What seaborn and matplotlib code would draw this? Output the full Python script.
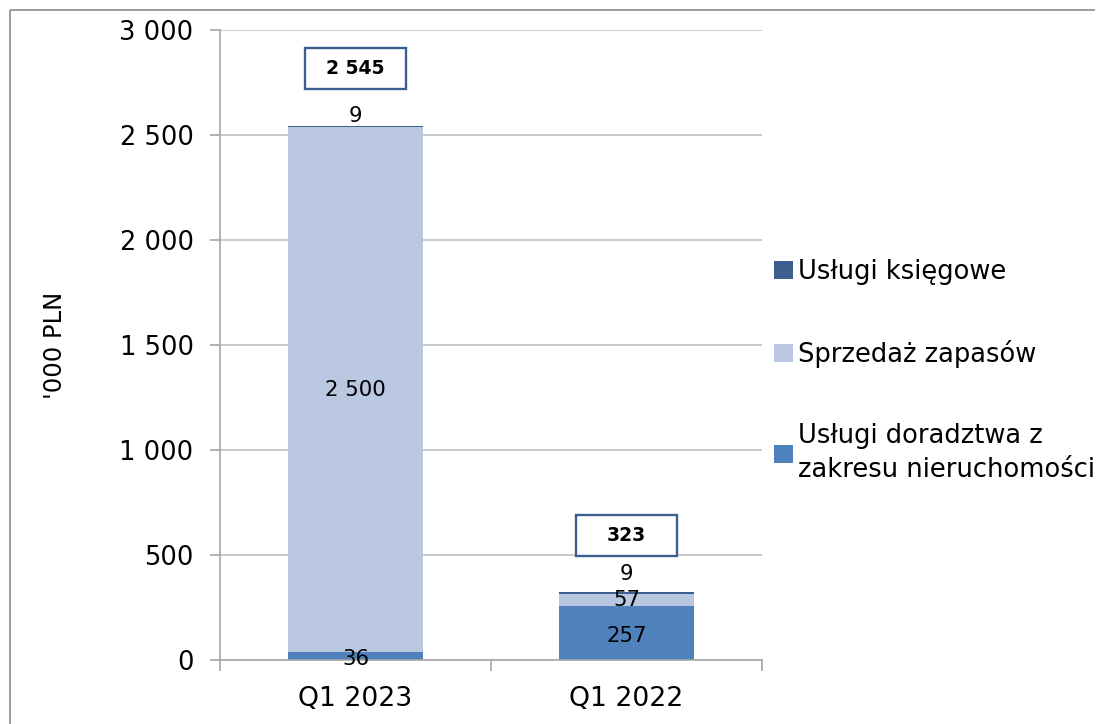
import matplotlib
matplotlib.use("Agg")
import matplotlib.pyplot as plt
import seaborn as sns
import pandas as pd
import numpy as np
from matplotlib.patches import Rectangle
from matplotlib.lines import Line2D
from matplotlib.ticker import FuncFormatter, FixedLocator

# ---- data ----
categories = ["Q1 2023", "Q1 2022"]
doradztwo = [36, 257]        # Usługi doradztwa z zakresu nieruchomości
zapasy = [2500, 57]          # Sprzedaż zapasów
ksiegowe = [9, 9]            # Usługi księgowe
totals = [2545, 323]
series_names = ["Usługi doradztwa z\nzakresu nieruchomości", "Sprzedaż zapasów", "Usługi księgowe"]
y_label = "'000 PLN"
y_ticks = [0, 500, 1000, 1500, 2000, 2500, 3000]

# ---- style ----
col_dor = "#4F81BD"
col_zap = "#B9C7E0"
col_ksi = "#3C5F8E"
grid_col = "#C6C6C6"
spine_col = "#A6A6A6"

sns.set_theme(style="white")
plt.rcParams["font.family"] = ["DejaVu Sans"]

fig = plt.figure(figsize=(11.01, 7.24), dpi=100, facecolor="white", edgecolor="white", linewidth=0)
W, H = 1101, 724
ax = fig.add_axes([220 / W, 1 - 660 / H, (762 - 220) / W, (660 - 30) / H])

df = pd.DataFrame({
    "cat": categories,
    "dor": doradztwo,
    "zap": zapasy,
    "ksi": ksiegowe,
})
df["c1"] = df["dor"]
df["c2"] = df["dor"] + df["zap"]
df["c3"] = df["c2"] + df["ksi"]

# overlapping cumulative bars -> stacked appearance
sns.barplot(data=df, x="cat", y="c3", color=col_ksi, saturation=1, width=0.5, ax=ax, linewidth=0)
sns.barplot(data=df, x="cat", y="c2", color=col_zap, saturation=1, width=0.5, ax=ax, linewidth=0)
sns.barplot(data=df, x="cat", y="c1", color=col_dor, saturation=1, width=0.5, ax=ax, linewidth=0)

ax.set_xlim(-0.5, 1.5)
ax.set_ylim(0, 3000)
ax.yaxis.set_major_locator(FixedLocator(y_ticks))
ax.yaxis.set_major_formatter(FuncFormatter(lambda v, p: f"{v:,.0f}".replace(",", " ")))
ax.grid(axis="y", color=grid_col, linewidth=1.3)
ax.set_axisbelow(True)

for s in ["top", "right"]:
    ax.spines[s].set_visible(False)
for s in ["left", "bottom"]:
    ax.spines[s].set_color(spine_col)
    ax.spines[s].set_linewidth(1.2)

ax.set_xlabel("")
ax.set_ylabel(y_label, fontsize=17.5, color="black")
ax.yaxis.set_label_coords((67 - 220) / 542, 0.5)

ax.tick_params(axis="y", which="major", length=7, width=1.2, color=spine_col,
               labelsize=18.5, labelcolor="black", pad=12, left=True, direction="out")
ax.tick_params(axis="x", which="major", length=0, labelsize=19.2, labelcolor="black", pad=19)
ax.set_xticks([-0.5, 0.5, 1.5], minor=True)
ax.tick_params(axis="x", which="minor", length=8, width=1.2, color=spine_col, bottom=True, direction="out")

# ---- data labels ----
fs_lab = 15.3
top_offsets_px = [10, 18]
for i in range(len(categories)):
    ax.annotate(f"{doradztwo[i]}", xy=(i, doradztwo[i] / 2), xytext=(0, -2),
                textcoords="offset points", ha="center", va="center", fontsize=fs_lab, color="black")
    ax.text(i, doradztwo[i] + zapasy[i] / 2, f"{zapasy[i]:,}".replace(",", " "), ha="center",
            va="center", fontsize=fs_lab, color="black")
    ax.annotate(f"{ksiegowe[i]}", xy=(i, totals[i]), xytext=(0, top_offsets_px[i] * 0.72),
                textcoords="offset points", ha="center", va="center", fontsize=fs_lab, color="black")

# ---- total boxes ----
box_w_px, box_h_px, box_off_px = 101, 41, 57
inv = ax.transData.inverted()
for i in range(len(categories)):
    px, py = ax.transData.transform((i, totals[i]))
    cy = py + box_off_px
    x0, y0 = inv.transform((px - box_w_px / 2, cy - box_h_px / 2))
    x1, y1 = inv.transform((px + box_w_px / 2, cy + box_h_px / 2))
    rect = Rectangle((x0, y0), x1 - x0, y1 - y0, facecolor="white", edgecolor=col_ksi,
                     linewidth=1.7, clip_on=False, zorder=5)
    ax.add_patch(rect)
    ax.text(i, (y0 + y1) / 2, f"{totals[i]:,}".replace(",", " "), ha="center", va="center",
            fontsize=13.5, fontweight="bold", color="black", zorder=6)

# ---- legend ----
handles = [Rectangle((0, 0), 1, 1, facecolor=c, edgecolor="none") for c in [col_ksi, col_zap, col_dor]]
labels = [series_names[2], series_names[1], series_names[0]]
leg = fig.legend(handles, labels, loc="upper left", bbox_to_anchor=(774 / W, 1 - 259 / H),
                 frameon=False, fontsize=18.5, handlelength=0.72, handleheight=0.72,
                 handletextpad=0.2, labelspacing=2.15, borderaxespad=0, borderpad=0)
for t in leg.get_texts():
    t.set_linespacing(1.37)
    t.set_color("black")

# ---- outer frame (left & top) ----
fig.add_artist(Line2D([10 / W, 10 / W], [0, 1 - 10 / H], transform=fig.transFigure,
                      color="#8C8C8C", linewidth=1.2, solid_capstyle="butt"))
fig.add_artist(Line2D([10 / W, 1 - 6 / W], [1 - 10 / H, 1 - 10 / H], transform=fig.transFigure,
                      color="#8C8C8C", linewidth=1.2, solid_capstyle="butt"))

fig.savefig("out.png", dpi=100, facecolor="white", edgecolor="none")
